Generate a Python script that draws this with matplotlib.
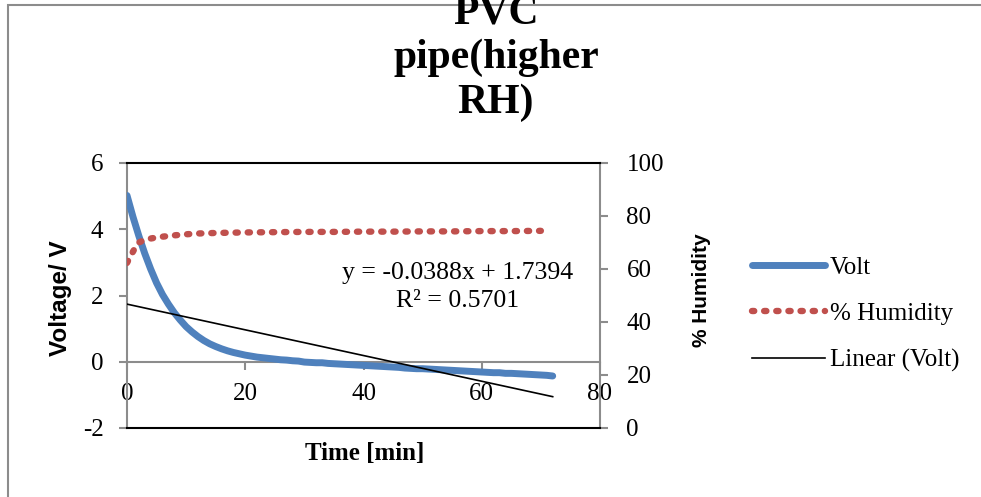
import matplotlib
matplotlib.use("Agg")
import matplotlib.pyplot as plt
from matplotlib.patches import Rectangle

# Volt readings, one per minute
volt_time = list(range(0, 73))
volt = [5.02, 4.38, 3.80, 3.27, 2.80, 2.38, 2.03, 1.74, 1.48, 1.26,
        1.06, 0.90, 0.76, 0.64, 0.54, 0.46, 0.39, 0.33, 0.28, 0.24,
        0.20, 0.17, 0.14, 0.12, 0.10, 0.08, 0.06, 0.05, 0.03, 0.02,
        -0.01, -0.02, -0.03, -0.03, -0.05, -0.06, -0.07, -0.08, -0.09, -0.10,
        -0.11, -0.12, -0.13, -0.14, -0.15, -0.16, -0.17, -0.19, -0.20, -0.21,
        -0.21, -0.22, -0.23, -0.24, -0.25, -0.26, -0.27, -0.28, -0.29, -0.30,
        -0.31, -0.32, -0.33, -0.33, -0.35, -0.35, -0.36, -0.37, -0.38, -0.39,
        -0.40, -0.41, -0.43]

hum_time = [0, 0.5, 1, 1.5, 2, 3, 4, 5, 6, 8, 10, 12, 15, 20, 25, 30,
            35, 40, 45, 50, 55, 60, 65, 70]
humidity = [62.3, 64.5, 66.5, 68.5, 70.0, 71.0, 71.5, 71.9, 72.2, 72.7,
            73.1, 73.4, 73.6, 73.8, 73.9, 74.0, 74.0, 74.1, 74.1, 74.2,
            74.2, 74.3, 74.3, 74.4]

# trendline from the chart label
slope = -0.0388
intercept = 1.7394

x_ticks = [0, 20, 40, 60, 80]
y_ticks = [-2, 0, 2, 4, 6]
h_ticks = [0, 20, 40, 60, 80, 100]

serif = "Liberation Serif"
sans = "Liberation Sans"
gray = "#8c8c8c"

fig = plt.figure(figsize=(9.81, 4.97), dpi=100)

# chart area border (cropped)
fig.patches.append(Rectangle((8 / 981, -0.2), 1.2, (497 - 5) / 497 + 0.2,
                             transform=fig.transFigure, fill=False,
                             edgecolor=gray, linewidth=1.5, zorder=0))

ax = fig.add_axes([127 / 981, 69 / 497, 473 / 981, 265 / 497])
ax2 = ax.twinx()

ax.set_xlim(0, 80)
ax.set_ylim(-2, 6)
ax2.set_ylim(0, 100)

line_v, = ax.plot(volt_time, volt, color="#4f81bd", linewidth=5.0,
                  solid_capstyle="round", label="Volt", zorder=3)
trend_x = [volt_time[0], volt_time[-1]]
trend_y = [slope * t + intercept for t in trend_x]
line_t, = ax.plot(trend_x, trend_y, color="black", linewidth=1.2,
                  label="Linear (Volt)", zorder=4)
line_h, = ax2.plot(hum_time, humidity, color="#c0504d", linewidth=4.6,
                   linestyle=(0, (0.35, 1.55)), dash_capstyle="round",
                   label="% Humidity")

# spines
ax.spines["top"].set_visible(False)
ax.spines["right"].set_visible(False)
ax.spines["bottom"].set_position(("data", 0))
ax.spines["bottom"].set_color(gray)
ax.spines["bottom"].set_linewidth(1.5)
ax.spines["left"].set_color(gray)
ax.spines["left"].set_linewidth(1.5)
ax2.spines["left"].set_visible(False)
ax2.spines["right"].set_color(gray)
ax2.spines["right"].set_linewidth(1.5)
ax2.spines["top"].set_color("black")
ax2.spines["bottom"].set_color("black")
ax2.spines["top"].set_linewidth(1.5)
ax2.spines["bottom"].set_linewidth(1.5)

ax.set_xticks(x_ticks)
ax.set_yticks(y_ticks)
ax2.set_yticks(h_ticks)
ax.set_xticklabels([str(v) for v in x_ticks], family=serif, fontsize=18)
ax.set_yticklabels([str(v) for v in y_ticks], family=serif, fontsize=18)
ax2.set_yticklabels([str(v) for v in h_ticks], family=serif, fontsize=18)
ax.tick_params(axis="x", direction="out", length=6, width=1.5, color=gray, pad=9)
ax.tick_params(axis="y", direction="out", length=6, width=1.5, color=gray, pad=11)
ax2.tick_params(axis="y", direction="out", length=6, width=1.5, color=gray, pad=13)

ax.set_xlabel("Time [min]", family=serif, fontsize=18, fontweight="bold")
ax.xaxis.set_label_coords(0.503, -0.053)
ax.set_ylabel("Voltage/ V", family=sans, fontsize=17.5, fontweight="bold")
ax.yaxis.set_label_coords(-0.116, 0.49)
ax2.set_ylabel("% Humidity", family=sans, fontsize=15, fontweight="bold")
ax2.yaxis.set_label_coords(1.194, 0.52)

ax.text(0.698, 0.532, "y = -0.0388x + 1.7394\nR² = 0.5701", transform=ax.transAxes,
        family=serif, fontsize=18.5, ha="center", va="center", linespacing=1.3)

# title runs off the top edge, as in the original chart
fig.text(496 / 981, 1 - 58 / 497, "PVC\npipe(higher\nRH)", family=serif,
         fontsize=30, fontweight="bold", ha="center", va="center",
         linespacing=1.22, zorder=5)

fig.legend([line_v, line_h, line_t], ["Volt", "% Humidity", "Linear (Volt)"],
           loc="center left", bbox_to_anchor=(752 / 981, 1 - 314 / 497),
           frameon=False, prop={"family": serif, "size": 18},
           handlelength=2.9, handletextpad=0.2, labelspacing=0.95,
           borderpad=0, borderaxespad=0)

fig.savefig("out.png", dpi=100)
